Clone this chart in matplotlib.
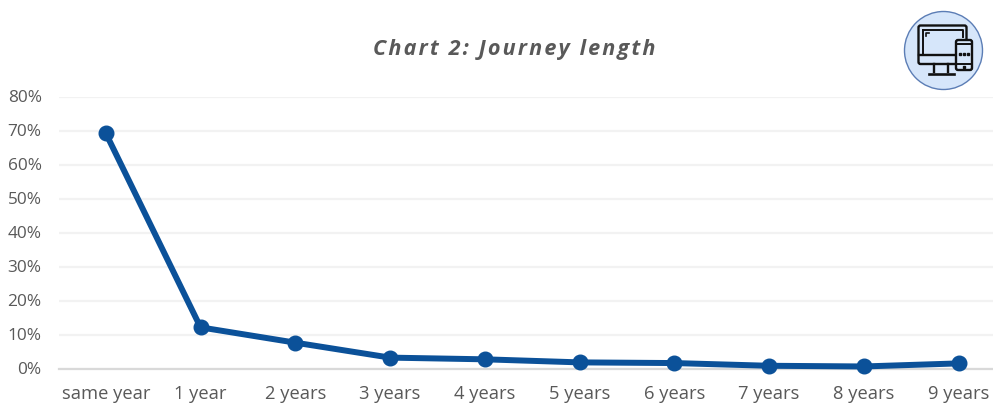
import matplotlib
matplotlib.use("Agg")
import matplotlib.pyplot as plt
from matplotlib.patches import Circle, FancyBboxPatch
from matplotlib.transforms import ScaledTranslation

categories = ["same year", "1 year", "2 years", "3 years", "4 years",
              "5 years", "6 years", "7 years", "8 years", "9 years"]
values = [69.2, 12.1, 7.6, 3.2, 2.7, 1.8, 1.6, 0.8, 0.6, 1.5]
yticks = [0, 10, 20, 30, 40, 50, 60, 70, 80]

W, H = 993, 406
plt.rcParams['font.family'] = ['Open Sans', 'DejaVu Sans']

fig = plt.figure(figsize=(W / 100, H / 100), dpi=100)

# axes box in pixels, right side runs to the edge of the picture
left, right, top, bottom = 59, 993, 97.5, 369.5
ax = fig.add_axes([left / W, 1 - bottom / H, (right - left) / W, (bottom - top) / H])

step = 94.75
ax.set_xlim(-(105.8 - left) / step, (right - 105.8) / step)
ax.set_ylim(0, 80)

ax.plot(range(len(values)), values, color="#0B5199", lw=4.3, marker="o", ms=10.5,
        clip_on=False, zorder=3, solid_joinstyle="round")

ax.set_yticks(yticks)
ax.set_yticklabels([f"{v}%" for v in yticks])
ax.set_xticks(range(len(categories)))
ax.set_xticklabels(categories)
ax.tick_params(axis="y", length=0, labelsize=12.4, labelcolor="#595959", pad=12.5)
ax.tick_params(axis="x", length=0, labelsize=13.2, labelcolor="#595959", pad=11.5)
shift = ScaledTranslation(0, -1 / 100, fig.dpi_scale_trans)
for lab in ax.get_yticklabels():
    lab.set_verticalalignment("center")
    lab.set_transform(lab.get_transform() + shift)
ax.grid(axis="y", color="#F2F2F2", lw=1.6)
ax.set_axisbelow(True)
for s in ["top", "right", "left"]:
    ax.spines[s].set_visible(False)
ax.spines["bottom"].set_color("#D9D9D9")
ax.spines["bottom"].set_linewidth(1.6)

# hair spaces for the wide letter spacing of the title
fig.text(514 / W, 1 - 50 / H, "\u200a".join("Chart 2: Journey length"), ha="center", va="center",
         fontsize=15.6, fontweight="bold", fontstyle="italic", color="#595959",
         family=['Open Sans', 'DejaVu Sans'])

# icon, drawn in pixel coordinates
ic = fig.add_axes([0, 0, 1, 1], facecolor="none")
ic.set_xlim(0, W)
ic.set_ylim(H, 0)
ic.axis("off")
ic.add_patch(Circle((943.5, 51.5), 39, fc="#D6E6FA", ec="#5B7DB5", lw=1))
dark = "#111111"
ic.add_patch(FancyBboxPatch((918.5, 26.5), 48, 38.5, boxstyle="round,pad=0,rounding_size=2",
                            fc="none", ec=dark, lw=1.7))
ic.plot([923, 963, 963], [31, 31, 38], color=dark, lw=1.4)
ic.plot([923, 923], [31, 55], color=dark, lw=1.4)
ic.plot([919, 955], [56, 56], color=dark, lw=1.7)
ic.plot([934, 934], [65, 73], color=dark, lw=1.7)
ic.plot([948, 948], [65, 73], color=dark, lw=1.7)
ic.plot([929, 954], [75, 75], color=dark, lw=1.9)
ic.plot([926, 926, 929], [37, 34, 34], color=dark, lw=1.2)
ic.add_patch(FancyBboxPatch((956, 41), 16, 30, boxstyle="round,pad=0,rounding_size=2",
                            fc="#D6E6FA", ec=dark, lw=1.7, zorder=3))
ic.plot([956, 972], [45, 45], color=dark, lw=1.4, zorder=4)
ic.plot([956, 972], [65, 65], color=dark, lw=1.4, zorder=4)
ic.plot([960, 964, 968], [54.5, 54.5, 54.5], ls="none", marker="s", ms=1.5, color=dark, zorder=4)
ic.plot([964], [68], ls="none", marker="s", ms=1.5, color=dark, zorder=4)

fig.savefig("out.png", dpi=100)
